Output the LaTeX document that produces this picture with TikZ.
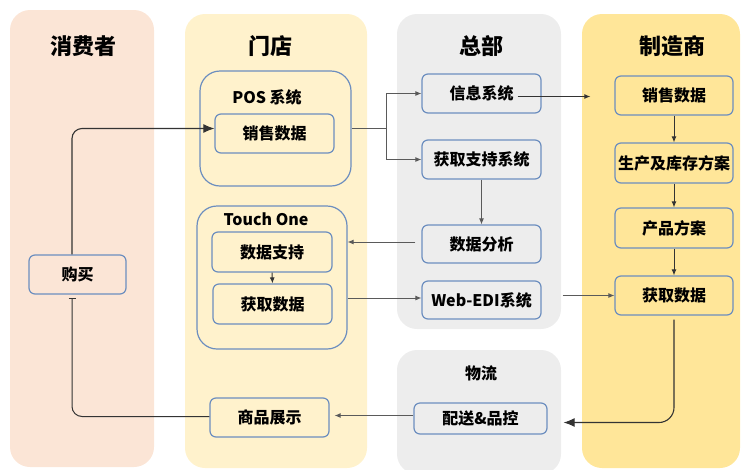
\documentclass[tikz,border=0pt]{standalone}
\usepackage{fontspec}
\setmainfont{Noto Sans CJK SC}
\usetikzlibrary{arrows.meta}
\definecolor{cpeach}{HTML}{FBE5D6}
\definecolor{cstore}{HTML}{FFF2CC}
\definecolor{chq}{HTML}{EDEDED}
\definecolor{cmfr}{HTML}{FFE699}
\definecolor{cblue}{HTML}{6C8EBF}
\definecolor{cdark}{HTML}{333333}
\definecolor{cmid}{HTML}{5A5A5A}
\begin{document}
\begin{tikzpicture}[x=1pt,y=-1pt,
  lane/.style={rounded corners=20pt, inner sep=0pt, draw=none},
  title/.style={font=\fontsize{22}{26}\selectfont\bfseries, inner sep=0pt},
  sub/.style={font=\fontsize{16}{19}\selectfont\bfseries, inner sep=0pt},
  box/.style={draw=cblue, line width=1.2pt, rounded corners=6pt, inner sep=0pt,
    minimum width=119pt, minimum height=39pt, font=\fontsize{16}{19}\selectfont\bfseries},
  cont/.style={draw=cblue, line width=1.2pt, rounded corners=20pt, inner sep=0pt},
  conn/.style={draw=cdark, line width=1pt, -{Latex[length=6pt,width=5pt]}},
  connb/.style={draw=cdark, line width=1.1pt, -{Latex[length=11pt,width=9pt]}},
  conng/.style={draw=cmid, line width=0.9pt, -{Latex[length=6pt,width=5pt]}},
]
\useasboundingbox (0,0) rectangle (741,469);
% lanes
\node[lane, fill=cpeach, minimum width=144pt, minimum height=457pt] (lcons) at (82,238.5) {};
\node[lane, fill=cstore, minimum width=182pt, minimum height=454pt] (lstore) at (276,241) {};
\node[lane, fill=chq, minimum width=164pt, minimum height=315pt] (lhq) at (479,171.5) {};
\node[lane, fill=chq, minimum width=164pt, minimum height=124pt] (llog) at (479,412) {};
\node[lane, fill=cmfr, minimum width=158pt, minimum height=454pt] (lmfr) at (661,241) {};
% titles
\node[title] (tcons) at (83,46) {消费者};
\node[title] (tstore) at (270,46) {门店};
\node[title] (thq) at (481,46) {总部};
\node[title] (tmfr) at (672,46) {制造商};
\node[font=\fontsize{16}{19}\selectfont\bfseries, inner sep=0pt] (tlog) at (481,373) {物流};
% store
\node[cont, minimum width=151pt, minimum height=115pt] (pos) at (275.5,128.5) {};
\node[sub] (tpos) at (267,97) {POS 系统};
\node[box] (ssales) at (274.5,133.5) {销售数据};
\node[cont, minimum width=150pt, minimum height=143pt] (touch) at (272,277.5) {};
\node[sub] (ttouch) at (266,219) {Touch One};
\node[box, minimum width=120pt, minimum height=40pt] (support) at (272,252) {数据支持};
\node[box, minimum height=40pt] (sget) at (272.5,304) {获取数据};
\node[box] (show) at (269.5,417.5) {商品展示};
% consumer
\node[box, minimum width=97pt] (buy) at (77.5,274.5) {购买};
% hq
\node[box] (info) at (481.5,93.5) {信息系统};
\node[box] (getsup) at (481.5,159.5) {获取支持系统};
\node[box, minimum height=38pt] (anal) at (481.5,244) {数据分析};
\node[box, minimum height=38pt] (web) at (481.5,300) {Web-EDI系统};
\node[box, minimum width=133pt, minimum height=31pt] (dist) at (480.5,418.5) {配送\&品控};
% manufacturer
\node[box, minimum width=118pt] (msales) at (674,95.5) {销售数据};
\node[box, minimum width=118pt, minimum height=40pt] (prod) at (674,163) {生产及库存方案};
\node[box, minimum width=118pt, minimum height=40pt] (plan) at (674,228) {产品方案};
\node[box, minimum width=118pt] (mget) at (674,295.5) {获取数据};
% connectors
\draw[connb, rounded corners=10pt] ([xshift=-5.5pt]buy.north) |- ([yshift=5pt]ssales.west);
\draw[draw=cdark, line width=1pt, -{Bar[width=7pt]}, rounded corners=10pt] ([yshift=1pt]show.west) -| ([xshift=-5.5pt,yshift=-3pt]buy.south);
\coordinate (j) at ([xshift=35pt]pos.east);
\draw[conng] (pos.east) -- (j) |- (info.west);
\draw[conng] (j) |- (getsup.west);
\draw[conn] ([xshift=-24pt,yshift=-3pt]info.east) -- ([xshift=-24pt,yshift=-3pt]info.east -| msales.west);
\draw[conng] (getsup.south) -- (anal.north);
\draw[conng] ([xshift=-6pt,yshift=2pt]anal.west) -- ([yshift=2pt]anal.west -| touch.east);
\draw[conng] ([yshift=2pt]web.west -| touch.east) -- ([yshift=2pt]web.west);
\draw[conng] ([xshift=21pt]web.east |- mget.west) -- (mget.west);
\draw[conn] (msales.south) -- (prod.north);
\draw[conn] (prod.south) -- (plan.north);
\draw[conn] (plan.south) -- (mget.north);
\draw[conn] (support.south) -- (sget.north);
\draw[connb, rounded corners=15pt] ([yshift=-4pt]mget.south) |- ([xshift=16pt,yshift=-4pt]dist.east);
\draw[conng] ([yshift=3pt]dist.west) -- ([xshift=5pt,yshift=3pt]dist.west -| show.east);
\end{tikzpicture}
\end{document}
